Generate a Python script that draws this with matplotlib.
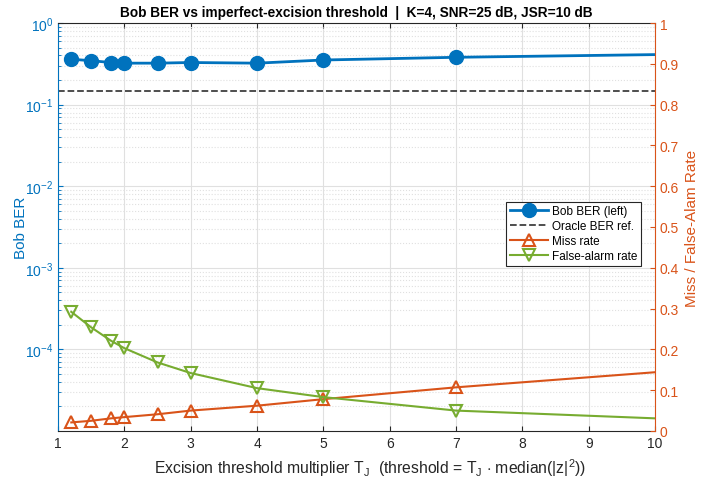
import matplotlib.pyplot as plt
import matplotlib.ticker as mticker
from matplotlib.lines import Line2D
import numpy as np

plt.rcParams['font.family'] = ['Liberation Sans', 'DejaVu Sans']
plt.rcParams['mathtext.fontset'] = 'custom'
plt.rcParams['mathtext.rm'] = 'Liberation Sans'
plt.rcParams['mathtext.it'] = 'Liberation Sans:italic'

# threshold multipliers and measured rates
tj = [1.2, 1.5, 1.8, 2.0, 2.5, 3.0, 4.0, 5.0, 7.0, 10.0]
ber_bob = [0.36, 0.345, 0.328, 0.322, 0.322, 0.328, 0.322, 0.352, 0.38, 0.41]
ber_oracle = 0.146
miss_rate = [0.021, 0.025, 0.031, 0.034, 0.041, 0.050, 0.062, 0.078, 0.107, 0.144]
fa_rate = [0.292, 0.254, 0.221, 0.203, 0.168, 0.142, 0.105, 0.083, 0.050, 0.031]

c_blue = '#0072BD'
c_orange = '#D95319'
c_green = '#77AC30'
marks = list(range(len(tj) - 1))

fig = plt.figure(figsize=(7.06, 4.81), dpi=100)
ax = fig.add_axes([0.0822, 0.1019, 0.8456, 0.8482])
ax2 = ax.twinx()

ax.semilogy(tj, ber_bob, '-o', color=c_blue, lw=2, ms=10, markevery=marks)
ax.axhline(ber_oracle, color='#404040', ls='--', lw=1.3)
ax.set_xlim(1, 10)
ax.set_ylim(1e-5, 1)
ax.yaxis.set_major_locator(mticker.FixedLocator([1e-4, 1e-3, 1e-2, 1e-1, 1]))
ax.yaxis.set_minor_locator(mticker.LogLocator(base=10, subs=np.arange(2, 10)))
ax.yaxis.set_minor_formatter(mticker.NullFormatter())
ax.set_ylabel('Bob BER', color=c_blue, fontsize=11)
ax.yaxis.set_label_coords(-0.05, 0.5)
ax.tick_params(axis='y', which='both', colors=c_blue, direction='in', labelsize=10)
ax.tick_params(axis='x', direction='in', top=True, labelsize=10, colors='#262626')
ax.xaxis.set_major_locator(mticker.MultipleLocator(1))
ax.grid(True, which='major', color='#e0e0e0', lw=0.8)
ax.grid(True, which='minor', axis='y', color='#e0e0e0', lw=0.8, ls=':')
ax.spines['left'].set_color(c_blue)
ax.spines['right'].set_visible(False)
ax.spines['top'].set_color('#262626')
ax.spines['bottom'].set_color('#262626')
ax.set_xlabel(r'Excision threshold multiplier T$_\mathregular{J}$  (threshold = T$_\mathregular{J}$ $\cdot$ median(|z|$^\mathregular{2}$))',
              fontsize=11.3, color='#262626')
ax.xaxis.set_label_coords(0.522, -0.062)

ax2.plot(tj, miss_rate, '-^', color=c_orange, lw=1.5, ms=8, mfc='none',
         mew=1.5, markevery=marks)
ax2.plot(tj, fa_rate, '-v', color=c_green, lw=1.5, ms=8, mfc='none',
         mew=1.5, markevery=marks)
ax2.set_ylim(0, 1)
ax2.yaxis.set_major_locator(mticker.MultipleLocator(0.1))
ax2.yaxis.set_major_formatter(mticker.FuncFormatter(lambda v, p: f'{v:g}'))
ax2.tick_params(axis='y', colors=c_orange, direction='in', labelsize=10)
ax2.spines['right'].set_color(c_orange)
ax2.spines['left'].set_visible(False)
ax2.spines['top'].set_visible(False)
ax2.spines['bottom'].set_visible(False)
ax2.set_ylabel('Miss / False-Alam Rate', color=c_orange, fontsize=11)

ax.set_title('Bob BER vs imperfect-excision threshold  |  K=4, SNR=25 dB, JSR=10 dB',
             fontsize=9.8, fontweight='bold', pad=5)

# legend entries for both y axes
handles = [
    Line2D([], [], color=c_blue, lw=2, marker='o', ms=10),
    Line2D([], [], color='#404040', lw=1.3, ls='--'),
    Line2D([], [], color=c_orange, lw=1.5, marker='^', ms=8, mfc='none', mew=1.5),
    Line2D([], [], color=c_green, lw=1.5, marker='v', ms=8, mfc='none', mew=1.5),
]
labels = ['Bob BER (left)', 'Oracle BER ref.', 'Miss rate', 'False-alarm rate']
leg = ax2.legend(handles, labels, loc='upper right',
                 bbox_to_anchor=(0.987, 0.576), fontsize=8.5, fancybox=False,
                 edgecolor='#262626', framealpha=1, handlelength=3.2,
                 borderpad=0.3, labelspacing=0.25, handletextpad=0.4)
leg.get_frame().set_linewidth(0.8)

fig.savefig('out.png', dpi=100)
